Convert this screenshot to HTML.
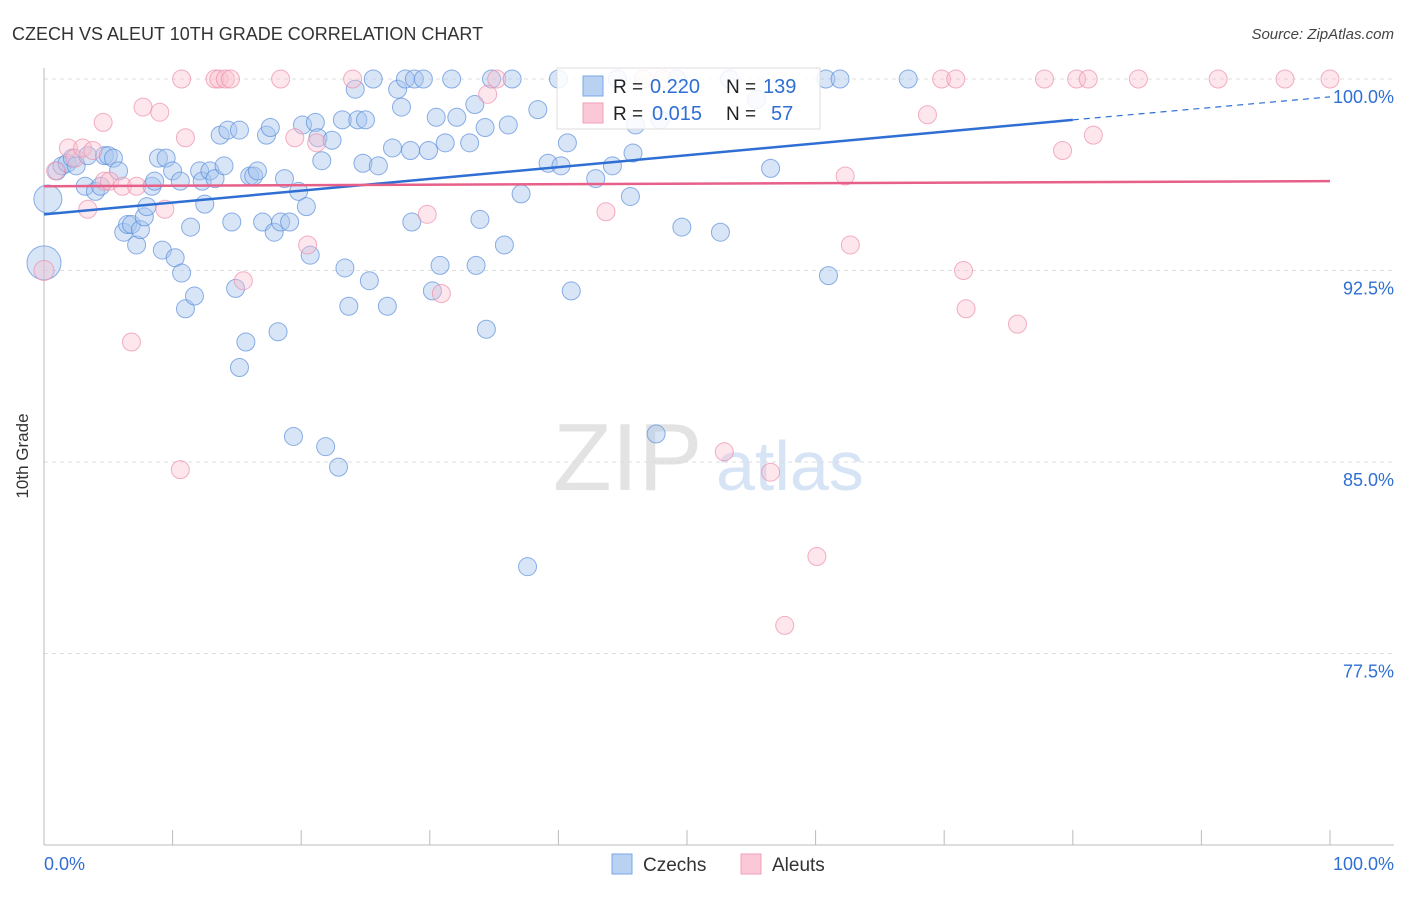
<!DOCTYPE html>
<html><head><meta charset="utf-8"><style>
body{margin:0;background:#fff;font-family:"Liberation Sans",sans-serif;}
svg text{font-family:"Liberation Sans",sans-serif;}
</style></head><body>
<svg id="chart" width="1406" height="892" viewBox="0 0 1406 892">
<text x="12" y="40" font-size="18" fill="#333">CZECH VS ALEUT 10TH GRADE CORRELATION CHART</text>
<text x="1394" y="39" font-size="15" fill="#444" text-anchor="end" font-style="italic">Source: ZipAtlas.com</text>
<text x="28" y="456" font-size="17" fill="#333" text-anchor="middle" transform="rotate(-90 28 456)">10th Grade</text>
<g><text x="553" y="490" font-size="96" fill="#e3e3e3" font-family="Liberation Serif">ZIP</text><text x="716" y="490" font-size="70" fill="#d6e4f5">atlas</text></g>
<g id="grid"></g><g id="axes"></g><g id="pts"></g><g id="lines"></g>
<g>
<rect x="557" y="68" width="263" height="61" fill="#fff" fill-opacity="0.85" stroke="#ddd"/>
<rect x="583" y="76" width="20" height="20" fill="#b9d2f2" stroke="#7aa7e6"/>
<rect x="583" y="103" width="20" height="20" fill="#fac8d6" stroke="#f0a0b8"/>
<text x="613" y="93" font-size="19" fill="#222">R =</text><text x="650" y="93" font-size="20" fill="#2f6fd4">0.220</text>
<text x="726" y="93" font-size="19" fill="#222">N =</text><text x="763" y="93" font-size="20" fill="#2f6fd4">139</text>
<text x="613" y="120" font-size="19" fill="#222">R =</text><text x="652" y="120" font-size="20" fill="#2f6fd4">0.015</text>
<text x="726" y="120" font-size="19" fill="#222">N =</text><text x="771" y="120" font-size="20" fill="#2f6fd4">57</text>
</g>
<g>
<rect x="612" y="854" width="20" height="20" fill="#b9d2f2" stroke="#7aa7e6"/>
<text x="643" y="871" font-size="19" fill="#333">Czechs</text>
<rect x="741" y="854" width="20" height="20" fill="#fac8d6" stroke="#f0a0b8"/>
<text x="772" y="871" font-size="19" fill="#333">Aleuts</text>
</g>
<text x="44" y="870" font-size="18" fill="#2f6fd4">0.0%</text>
<text x="1394" y="870" font-size="18" fill="#2f6fd4" text-anchor="end">100.0%</text>
</svg>
<script>
const yTicks=[100,92.5,85,77.5];
const yTickLabels=["100.0%","92.5%","85.0%","77.5%"];
const czX=[0.3,0,1.0,1.4,1.8,2.2,2.5,3.2,3.4,4.0,4.4,4.7,5.0,5.4,5.8,6.2,6.5,6.8,7.2,7.5,7.8,8.0,8.4,8.6,8.9,9.2,9.5,10.0,10.2,10.6,10.7,11.0,11.4,11.7,12.1,12.3,12.5,12.9,13.3,13.7,14.0,14.3,14.6,14.9,15.2,15.2,15.7,16.0,16.3,16.6,17.0,17.3,17.6,17.9,18.2,18.4,18.7,19.1,19.4,19.8,20.1,20.4,20.7,21.1,21.3,21.6,21.9,22.4,22.9,23.2,23.4,23.7,24.2,24.4,24.8,25.0,25.3,25.6,26.0,26.7,27.1,27.5,27.8,28.1,28.5,28.6,28.8,29.5,29.9,30.2,30.5,30.8,31.2,31.7,32.1,33.1,33.5,33.6,33.9,34.3,34.4,34.8,35.8,36.1,36.4,37.1,37.6,38.4,39.2,40.0,40.2,40.7,41.0,42.9,44.2,44.6,45.6,45.8,46.0,47.6,47.9,49.2,49.6,52.6,53.3,55.4,56.5,60.8,61.0,61.9,67.2];
const czY=[95.3,92.8,96.4,96.6,96.7,96.9,96.6,95.8,97.0,95.6,95.8,97.0,97.0,96.9,96.4,94.0,94.3,94.3,93.5,94.1,94.6,95.0,95.8,96.0,96.9,93.3,96.9,96.4,93.0,96.0,92.4,91.0,94.2,91.5,96.4,96.0,95.1,96.4,96.1,97.8,96.6,98.0,94.4,91.8,98.0,88.7,89.7,96.2,96.2,96.4,94.4,97.8,98.1,94.0,90.1,94.4,96.1,94.4,86.0,95.6,98.2,95.0,93.1,98.3,97.7,96.8,85.6,97.6,84.8,98.4,92.6,91.1,99.6,98.4,96.7,98.4,92.1,100,96.6,91.1,97.3,99.6,98.9,100,97.2,94.4,100,100,97.2,91.7,98.5,92.7,97.5,100,98.5,97.5,99.0,92.7,94.5,98.1,90.2,100,93.5,98.2,100,95.5,80.9,98.8,96.7,100,96.6,97.5,91.7,96.1,96.6,100,95.4,97.1,98.2,86.1,98.4,100,94.2,94.0,100,99.2,96.5,100,92.3,100,100];
const alX=[0,0.9,1.9,2.4,3.0,3.4,3.8,4.6,4.7,5.1,6.1,6.8,7.2,7.7,9.0,9.4,10.6,10.7,11.0,13.3,13.6,14.1,14.5,15.5,18.4,19.5,20.5,21.2,24.0,29.8,30.9,34.5,35.2,43.7,46.6,48.1,52.9,56.5,60.1,57.6,62.3,62.7,68.7,69.8,70.9,71.5,71.7,75.7,77.8,79.2,80.3,81.2,81.6,85.1,91.3,96.5,100];
const alY=[92.5,96.4,97.3,96.9,97.3,94.9,97.2,98.3,96.0,96.0,95.8,89.7,95.8,98.9,98.7,94.9,84.7,100,97.7,100,100,100,100,92.1,100,97.7,93.5,97.5,100,94.7,91.6,99.4,100,94.8,100,100,85.4,84.6,81.3,78.6,96.2,93.5,98.6,100,100,92.5,91.0,90.4,100,97.2,100,100,97.8,100,100,100,100];
const czLine=[94.7,98.4,99.3]; // y at 0%, 80%, 100%
const alLine=[95.8,96.0];
const NS="http://www.w3.org/2000/svg";
const X0=44,X1=1330,Y100=79,PY=191.5/7.5;
const sx=v=>X0+(X1-X0)*v/100, sy=v=>Y100+(100-v)*PY;
function mk(t,a,p){const e=document.createElementNS(NS,t);for(const k in a)e.setAttribute(k,a[k]);p.appendChild(e);return e;}
const grid=document.getElementById('grid'),axes=document.getElementById('axes');
yTicks.forEach((t,i)=>{
 const l=mk('line',{x1:X0,x2:1394,y1:sy(t),y2:sy(t),stroke:'#ddd','stroke-dasharray':'4 4'},grid);
 
 
 const tx=mk('text',{x:1394,y:sy(t)+24,'font-size':18,fill:'#2f6fd4','text-anchor':'end'},grid);
 tx.textContent=yTickLabels[i];
 
 
});
const ax=mk('line',{x1:X0,x2:X0,y1:68,y2:845,stroke:'#bbb'},axes);


const bx=mk('line',{x1:X0,x2:1394,y1:845,y2:845,stroke:'#bbb'},axes);


for(let i=0;i<=10;i++){const t=mk('line',{x1:sx(i*10),x2:sx(i*10),y1:830,y2:845,stroke:'#bbb'},axes);
 
 }
const pts=document.getElementById('pts');
czX.forEach((x,i)=>{const r=i===0?14:(i===1?17:9);
 const c=mk('circle',{cx:sx(x),cy:sy(czY[i]),r:r,fill:'#a9c6ee','fill-opacity':0.45,stroke:'#5b8fdc','stroke-opacity':0.7},pts);
 
 });
alX.forEach((x,i)=>{const r=i===0?10:9;
 const c=mk('circle',{cx:sx(x),cy:sy(alY[i]),r:r,fill:'#f9c0d0','fill-opacity':0.4,stroke:'#ec8fab','stroke-opacity':0.7},pts);
 
 });
const lines=document.getElementById('lines');
const b1=mk('line',{x1:sx(0),y1:sy(czLine[0]),x2:sx(80),y2:sy(czLine[1]),stroke:'#2f6fd4','stroke-width':2.5},lines);


const b2=mk('line',{x1:sx(80),y1:sy(czLine[1]),x2:sx(100),y2:sy(czLine[2]),stroke:'#2f6fd4','stroke-width':1.2,'stroke-dasharray':'6 5'},lines);


const p1=mk('line',{x1:sx(0),y1:sy(alLine[0]),x2:sx(100),y2:sy(alLine[1]),stroke:'#e7608a','stroke-width':2.5},lines);


</script>
</body></html>
